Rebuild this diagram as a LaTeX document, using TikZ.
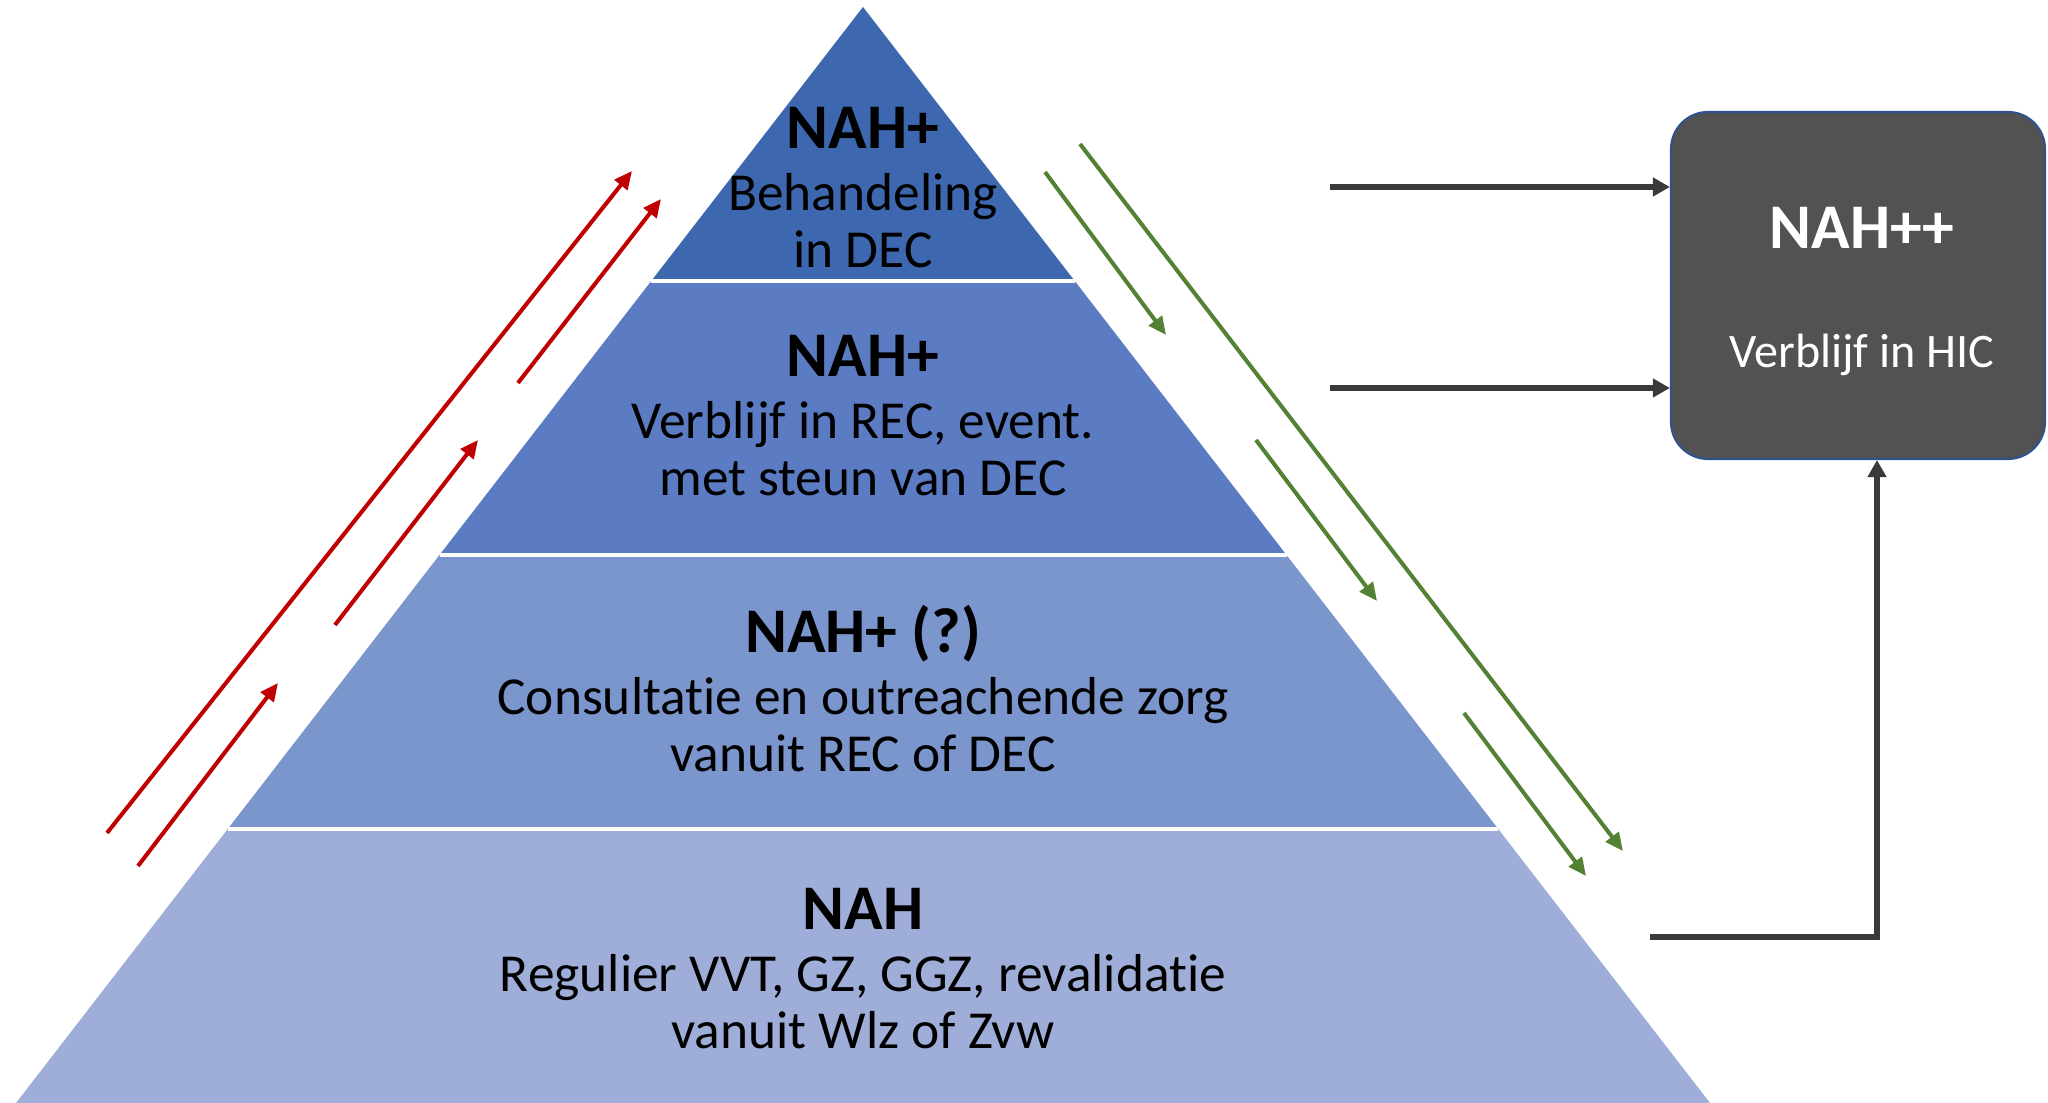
\documentclass[tikz,border=0pt]{standalone}
\usepackage{fontspec}
\setmainfont[Ligatures={NoCommon}]{Carlito}
\usepackage{xcolor}
\usepackage{tikz}
\usetikzlibrary{calc}
\usetikzlibrary{arrows.meta}

\definecolor{layerA}{HTML}{3D68B0}
\definecolor{layerB}{HTML}{5B7BC3}
\definecolor{layerC}{HTML}{7B95CD}
\definecolor{layerD}{HTML}{9FAED8}
\definecolor{upred}{HTML}{C00000}
\definecolor{downgreen}{HTML}{548235}
\definecolor{hicgray}{HTML}{525252}
\definecolor{hicedge}{HTML}{2F528F}
\definecolor{feedgray}{HTML}{3A3A3A}

\begin{document}
\begin{tikzpicture}%%pyramid

                \tikzstyle{upflow}     = [upred, line width=1.15pt, -{Triangle[length=0.18cm,width=0.16cm]}]
                \tikzstyle{downflow}   = [downgreen, line width=1.15pt, -{Triangle[length=0.18cm,width=0.16cm]}]
                \tikzstyle{feed}       = [feedgray, line width=1.6pt, -{Triangle[length=0.17cm,width=0.18cm]}]
                \tikzstyle{layertitle} = [inner sep=0pt, anchor=base, font=\fontsize{18.1}{21}\selectfont\bfseries]
                \tikzstyle{bodytext}   = [inner sep=0pt, anchor=base, font=\fontsize{15.2}{18}\selectfont]

                \useasboundingbox (0,0) rectangle (20.48,11.03);

                % pyramid
                \coordinate (top) at (8.63,10.96);
                \coordinate (bl) at (0.16,0);
                \coordinate (br) at (17.10,0);
                \foreach \a/\b/\c in {0/0.25/layerA, 0.25/0.5/layerB, 0.5/0.75/layerC, 0.75/1/layerD}
                {
                        \fill [\c] ($(top)!\a!(bl)$) -- ($(top)!\b!(bl)$) -- ($(top)!\b!(br)$) -- ($(top)!\a!(br)$) -- cycle;
                }
                \foreach \b in {0.25,0.5,0.75}
                        \draw [white, line width=0.9pt] ($(top)!\b!(bl)$) -- ($(top)!\b!(br)$);

                \foreach \n/\y/\ti/\la/\lb in {1/9.54/{NAH+}/{Behandeling}/{in DEC},
                                               2/7.26/{NAH+}/{Verblijf in REC, event.}/{met steun van DEC},
                                               3/4.50/{NAH+ (?)}/{Consultatie en outreachende zorg}/{vanuit REC of DEC},
                                               4/1.73/{NAH}/{Regulier VVT, GZ, GGZ, revalidatie}/{vanuit Wlz of Zvw}}
                {
                        \node [layertitle](title\n) at (8.63,\y) {\ti};
                        \node [bodytext](linea\n) at ($(title\n.base)+(0,-0.62)$) {\la};
                        \node [bodytext](lineb\n) at ($(title\n.base)+(0,-1.19)$) {\lb};
                }

                % HIC
                \node [draw=hicedge, fill=hicgray, line width=0.6pt, rounded corners=0.37cm,
                       minimum width=3.74cm, minimum height=3.47cm](hic) at (18.58,8.175) {};
                \node [layertitle, white](hictitle) at (18.62,8.54) {NAH++};
                \node [bodytext, white, font=\fontsize{13.7}{16}\selectfont](hictext) at (18.62,7.35) {Verblijf in HIC};

                \coordinate (s1) at (13.30,9.16);
                \coordinate (s2) at (13.30,7.15);
                \coordinate (s3) at (16.50,1.66);
                \coordinate (k3) at (18.77,1.66);
                \draw [feed] (s1) -- (s1 -| hic.west);
                \draw [feed] (s2) -- (s2 -| hic.west);
                \draw [feed] (s3) -- (k3) -- (k3 |- hic.south);

                % up and down
                \foreach \i/\x/\y/\u/\v in {1/1.07/2.70/6.32/9.32, 2/1.38/2.37/2.78/4.20,
                                            3/3.35/4.78/4.78/6.63, 4/5.18/7.20/6.61/9.04}
                {
                        \coordinate (rs\i) at (\x,\y);
                        \coordinate (re\i) at (\u,\v);
                        \draw [upflow] (rs\i) -- (re\i);
                }
                \foreach \i/\x/\y/\u/\v in {1/10.45/9.31/11.66/7.68, 2/10.80/9.59/16.23/2.52,
                                            3/12.56/6.63/13.77/5.02, 4/14.64/3.90/15.86/2.27}
                {
                        \coordinate (gs\i) at (\x,\y);
                        \coordinate (ge\i) at (\u,\v);
                        \draw [downflow] (gs\i) -- (ge\i);
                }
\end{tikzpicture}
\end{document}
